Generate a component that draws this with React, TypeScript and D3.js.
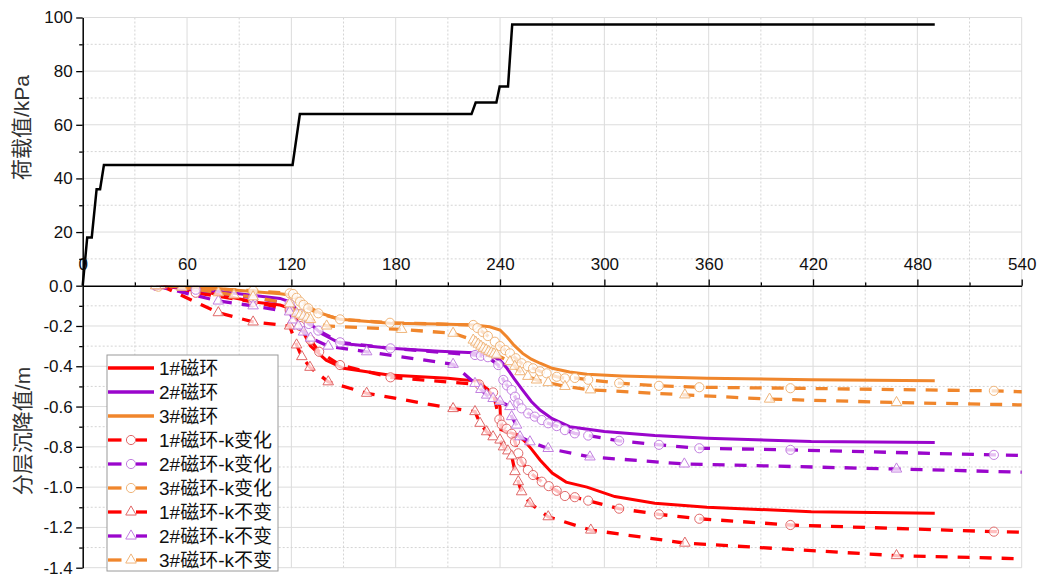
import React, { useRef, useEffect } from 'react';
import * as d3 from 'd3';

// load history (top panel)
const loadTime = [0, 2.6, 5.2, 8, 10, 12.2, 120.7, 124.9, 223.6, 226, 237.9, 239.8, 244.6, 247, 490];
const loadValue = [0, 18, 18, 36, 36, 45, 45, 64, 64, 68.3, 68.3, 74.3, 74.3, 97.4, 97.4];

// measured settlement, solid lines
const ring1Time = [45, 70, 98, 113.5, 119, 125, 131, 140, 150, 176, 210, 228, 234, 238, 240, 240.5, 244, 250, 254, 258, 263, 270, 278, 290, 306, 329, 359, 419, 490];
const ring1Value = [0, -0.03, -0.08, -0.096, -0.112, -0.2, -0.3, -0.37, -0.41, -0.443, -0.46, -0.475, -0.526, -0.567, -0.6, -0.715, -0.725, -0.74, -0.77, -0.81, -0.865, -0.93, -0.975, -1.0, -1.047, -1.08, -1.1, -1.122, -1.13];
const ring2Time = [45, 80, 113.5, 119, 125, 131, 137, 148, 177, 205, 225, 236, 240, 244, 248, 253, 258, 263, 270, 280, 300, 329, 359, 419, 490];
const ring2Value = [0, -0.03, -0.063, -0.08, -0.137, -0.19, -0.236, -0.286, -0.311, -0.325, -0.333, -0.352, -0.37, -0.41, -0.46, -0.518, -0.575, -0.617, -0.66, -0.7, -0.724, -0.744, -0.757, -0.774, -0.779];
const ring3Time = [42, 76, 99, 113.5, 118, 125, 131, 137, 148, 177, 205, 225, 234, 240, 244, 248, 253, 258, 263, 270, 280, 290, 310, 359, 419, 490];
const ring3Value = [0, -0.013, -0.03, -0.04, -0.045, -0.071, -0.11, -0.137, -0.167, -0.187, -0.19, -0.195, -0.204, -0.22, -0.255, -0.295, -0.336, -0.365, -0.385, -0.41, -0.428, -0.44, -0.448, -0.459, -0.467, -0.472];

// computed, k varying (circles)
const ring1kVarTime = [42, 65, 98, 119, 125, 131, 136, 148, 177, 228, 236, 239.6, 241, 243.8, 246.7, 248.6, 250.5, 252.4, 256, 259, 264, 268, 272.6, 277.3, 283, 290.7, 308.5, 331.4, 354.6, 407, 524, 560];
const ring1kVarValue = [0, -0.035, -0.08, -0.12, -0.2, -0.27, -0.328, -0.394, -0.455, -0.49, -0.53, -0.664, -0.69, -0.71, -0.735, -0.775, -0.832, -0.874, -0.915, -0.94, -0.973, -0.995, -1.018, -1.044, -1.05, -1.067, -1.107, -1.135, -1.157, -1.188, -1.221, -1.228];
const ring2kVarTime = [42, 65, 98, 119, 125, 130, 135.5, 148, 177, 225.6, 229, 233, 239, 241.9, 244, 246.7, 248.6, 250.5, 252.4, 256.2, 260, 264, 267.7, 272.6, 277.3, 283, 290.7, 308.5, 331.4, 354.6, 407, 524, 560];
const ring2kVarValue = [0, -0.02, -0.06, -0.09, -0.14, -0.19, -0.223, -0.281, -0.311, -0.344, -0.348, -0.355, -0.394, -0.468, -0.495, -0.518, -0.551, -0.584, -0.609, -0.634, -0.65, -0.667, -0.683, -0.697, -0.717, -0.733, -0.744, -0.77, -0.79, -0.807, -0.815, -0.84, -0.845];
const ring3kVarTime = [43.5, 98, 119, 121, 123, 125, 127, 129.7, 135.5, 148, 176.7, 224.6, 227, 230, 233, 237, 240, 243, 245.7, 249, 252.4, 256, 259, 263, 266.8, 272.6, 277.3, 283, 290.7, 308.5, 331.4, 354.6, 407, 524, 560];
const ring3kVarValue = [-0.005, -0.025, -0.038, -0.041, -0.06, -0.079, -0.095, -0.112, -0.137, -0.167, -0.184, -0.195, -0.21, -0.23, -0.25, -0.278, -0.3, -0.32, -0.336, -0.36, -0.385, -0.4, -0.41, -0.425, -0.435, -0.452, -0.46, -0.458, -0.467, -0.484, -0.497, -0.504, -0.509, -0.522, -0.532];

// computed, k constant (triangles)
const ring1kConstTime = [45, 78, 98, 119, 123, 126, 130.7, 141.2, 163.3, 213, 225.6, 228.5, 232.3, 236, 240, 242, 244.5, 246.7, 248.6, 250.5, 252.4, 257.2, 267.7, 292.2, 346.3, 468, 560];
const ring1kConstValue = [0, -0.134, -0.18, -0.2, -0.294, -0.352, -0.405, -0.477, -0.534, -0.61, -0.625, -0.683, -0.725, -0.75, -0.766, -0.8, -0.82, -0.845, -0.923, -0.973, -1.023, -1.08, -1.147, -1.213, -1.278, -1.34, -1.36];
const ring2kConstTime = [42, 78, 98, 119, 121, 124, 127, 131, 141.2, 163.3, 213, 225.6, 229, 232.3, 236, 240, 245.7, 246.7, 249.5, 251.5, 257.2, 267.7, 291.7, 346, 468, 560];
const ring2kConstValue = [0, -0.076, -0.1, -0.13, -0.17, -0.2, -0.23, -0.26, -0.3, -0.328, -0.39, -0.485, -0.515, -0.543, -0.56, -0.575, -0.6, -0.65, -0.692, -0.75, -0.775, -0.808, -0.85, -0.885, -0.91, -0.93];
const ring3kConstTime = [42, 57, 78, 87, 98, 119, 123, 125, 127, 129, 131, 140.3, 183.4, 213, 224.6, 226, 227.5, 229, 230.5, 232, 233.5, 235, 236.5, 238, 245.7, 248.5, 251.5, 256, 261, 267.7, 277.3, 292, 346.3, 395, 468, 560];
const ring3kConstValue = [0, -0.008, -0.035, -0.046, -0.055, -0.09, -0.137, -0.145, -0.152, -0.16, -0.168, -0.2, -0.217, -0.236, -0.27, -0.28, -0.29, -0.3, -0.31, -0.318, -0.326, -0.333, -0.338, -0.344, -0.377, -0.4, -0.427, -0.45, -0.468, -0.481, -0.5, -0.517, -0.542, -0.563, -0.58, -0.595];

const seriesNames = ['1#磁环', '2#磁环', '3#磁环', '1#磁环-k变化', '2#磁环-k变化', '3#磁环-k变化', '1#磁环-k不变', '2#磁环-k不变', '3#磁环-k不变'];

const xTicks = [0, 60, 120, 180, 240, 300, 360, 420, 480, 540];
const xMinor = [30, 90, 150, 210, 270, 330, 390, 450, 510];
const loadTicks = [20, 40, 60, 80, 100];
const loadMinor = [10, 30, 50, 70, 90];
const settleTicks = [0, -0.2, -0.4, -0.6, -0.8, -1.0, -1.2, -1.4];
const settleMinor = [-0.1, -0.3, -0.5, -0.7, -0.9, -1.1, -1.3];

const RED = '#ff0000';
const PURPLE = '#9a06cc';
const ORANGE = '#f0862c';
const zip = (t, v) => t.map((d, i) => ({ t: d, v: v[i] }));

const App = () => {
  const svgRef = useRef();

  useEffect(() => {
    const svg = d3.select(svgRef.current);
    svg.selectAll('*').remove();

    const left = 82.7, right = 1021.7, top = 17.5, mid = 285.7, bottom = 567.7;
    const x = d3.scaleLinear().domain([0, 540]).range([left, right]);
    const yTop = d3.scaleLinear().domain([0, 100]).range([mid, top]);
    const yBot = d3.scaleLinear().domain([-1.4, 0]).range([bottom, mid]);

    const font = 'Arial, "Liberation Sans", "Noto Sans CJK SC", sans-serif';

    const series = [
      { data: zip(ring1Time, ring1Value), color: RED, mark: null, dashed: false },
      { data: zip(ring2Time, ring2Value), color: PURPLE, mark: null, dashed: false },
      { data: zip(ring3Time, ring3Value), color: ORANGE, mark: null, dashed: false },
      { data: zip(ring1kVarTime, ring1kVarValue), color: RED, mark: 'circle', edge: '#e06868', dashed: true },
      { data: zip(ring2kVarTime, ring2kVarValue), color: PURPLE, mark: 'circle', edge: '#c27fe0', dashed: true },
      { data: zip(ring3kVarTime, ring3kVarValue), color: ORANGE, mark: 'circle', edge: '#f0b57a', dashed: true },
      { data: zip(ring1kConstTime, ring1kConstValue), color: RED, mark: 'triangle', edge: '#e06868', dashed: true },
      { data: zip(ring2kConstTime, ring2kConstValue), color: PURPLE, mark: 'triangle', edge: '#c27fe0', dashed: true },
      { data: zip(ring3kConstTime, ring3kConstValue), color: ORANGE, mark: 'triangle', edge: '#f0b57a', dashed: true }
    ];

    const g = svg.append('g');

    // grid
    const grid = g.append('g');
    const gridLine = (x1, y1, x2, y2, minor) => grid.append('line')
      .attr('x1', x1).attr('y1', y1).attr('x2', x2).attr('y2', y2)
      .attr('stroke', minor ? '#d4d4d4' : '#dcdcdc')
      .attr('stroke-width', 1)
      .attr('stroke-dasharray', minor ? '2,2' : null);
    xTicks.slice(1).forEach(d => gridLine(x(d), top, x(d), bottom, false));
    xMinor.forEach(d => gridLine(x(d), top, x(d), bottom, true));
    loadTicks.forEach(d => gridLine(left, yTop(d), right, yTop(d), false));
    loadMinor.forEach(d => gridLine(left, yTop(d), right, yTop(d), true));
    settleTicks.slice(1).forEach(d => gridLine(left, yBot(d), right, yBot(d), false));
    settleMinor.forEach(d => gridLine(left, yBot(d), right, yBot(d), true));

    // clip for the settlement panel
    svg.append('defs').append('clipPath').attr('id', 'botClip')
      .append('rect').attr('x', left).attr('y', mid).attr('width', right - left).attr('height', bottom - mid + 2);

    // load curve
    const loadLine = d3.line().x(d => x(d.t)).y(d => yTop(d.v));
    g.append('path')
      .datum(zip(loadTime, loadValue))
      .attr('fill', 'none')
      .attr('stroke', '#000')
      .attr('stroke-width', 2.5)
      .attr('d', loadLine);

    // settlement curves
    const plot = g.append('g').attr('clip-path', 'url(#botClip)');
    const line = d3.line().x(d => x(d.t)).y(d => yBot(d.v));
    const circleSym = d3.symbol().type(d3.symbolCircle).size(66);
    const triSym = d3.symbol().type(d3.symbolTriangle).size(48);

    series.forEach(s => {
      plot.append('path')
        .datum(s.data)
        .attr('fill', 'none')
        .attr('stroke', s.color)
        .attr('stroke-width', s.dashed ? 3.3 : 3)
        .attr('stroke-dasharray', s.dashed ? '12,10' : null)
        .attr('d', line);
    });
    series.forEach(s => {
      if (!s.mark) return;
      plot.selectAll(null)
        .data(s.data)
        .enter()
        .append('path')
        .attr('transform', d => `translate(${x(d.t)},${yBot(d.v)})`)
        .attr('d', s.mark === 'circle' ? circleSym() : triSym())
        .attr('fill', 'rgba(255,255,255,0.75)')
        .attr('stroke', s.edge)
        .attr('stroke-width', 1);
    });

    // axes
    const styleAxis = sel => {
      sel.select('.domain').attr('stroke', '#000').attr('stroke-width', 1.5);
      sel.selectAll('.tick line').attr('stroke', '#000').attr('stroke-width', 1.3);
      sel.selectAll('text').attr('fill', '#111').style('font-size', '17px').style('font-family', font);
    };

    const xAxis = g.append('g')
      .attr('transform', `translate(0,${mid})`)
      .call(d3.axisTop(x).tickValues(xTicks).tickSize(6.3).tickSizeOuter(0).tickPadding(9.5).tickFormat(d3.format('d')));
    styleAxis(xAxis);
    g.append('g')
      .attr('transform', `translate(0,${mid})`)
      .call(d3.axisTop(x).tickValues(xMinor).tickSize(3.3).tickSizeOuter(0).tickFormat(''))
      .call(sel => { sel.select('.domain').remove(); sel.selectAll('.tick line').attr('stroke', '#000').attr('stroke-width', 1.3); });

    const yTopAxis = g.append('g')
      .attr('transform', `translate(${left},0)`)
      .call(d3.axisLeft(yTop).tickValues(loadTicks).tickSize(6.5).tickSizeOuter(0).tickPadding(3.5));
    styleAxis(yTopAxis);
    g.append('g')
      .attr('transform', `translate(${left},0)`)
      .call(d3.axisLeft(yTop).tickValues(loadMinor).tickSize(3.5).tickSizeOuter(0).tickFormat(''))
      .call(sel => { sel.select('.domain').remove(); sel.selectAll('.tick line').attr('stroke', '#000').attr('stroke-width', 1.3); });

    const yBotAxis = g.append('g')
      .attr('transform', `translate(${left},0)`)
      .call(d3.axisLeft(yBot).tickValues(settleTicks).tickSize(6.5).tickSizeOuter(0).tickPadding(3.5).tickFormat(d3.format('.1f')));
    styleAxis(yBotAxis);
    yBotAxis.selectAll('text').text(d => d3.format('.1f')(d).replace('−', '-'));
    g.append('g')
      .attr('transform', `translate(${left},0)`)
      .call(d3.axisLeft(yBot).tickValues(settleMinor).tickSize(3.5).tickSizeOuter(0).tickFormat(''))
      .call(sel => { sel.select('.domain').remove(); sel.selectAll('.tick line').attr('stroke', '#000').attr('stroke-width', 1.3); });

    // axis titles
    g.append('text')
      .attr('transform', `translate(29,${(top + mid) / 2 - 24}) rotate(-90)`)
      .attr('text-anchor', 'middle')
      .attr('fill', '#333')
      .style('font-size', '21px')
      .style('font-family', font)
      .text('荷载值/kPa');
    g.append('text')
      .attr('transform', `translate(30,431) rotate(-90)`)
      .attr('text-anchor', 'middle')
      .attr('fill', '#333')
      .style('font-size', '21px')
      .style('font-family', font)
      .text('分层沉降值/m');

    // legend
    const legend = g.append('g');
    legend.append('rect')
      .attr('x', 107).attr('y', 355).attr('width', 171).attr('height', 216)
      .attr('fill', '#fff').attr('stroke', '#9a9a9a').attr('stroke-width', 1);
    series.forEach((s, i) => {
      const yy = 368 + i * 24;
      const item = legend.append('g');
      if (!s.dashed) {
        item.append('line').attr('x1', 108).attr('x2', 154).attr('y1', yy).attr('y2', yy)
          .attr('stroke', s.color).attr('stroke-width', 3.3);
      } else {
        item.append('line').attr('x1', 108).attr('x2', 121.5).attr('y1', yy).attr('y2', yy)
          .attr('stroke', s.color).attr('stroke-width', 3.3);
        item.append('line').attr('x1', 136).attr('x2', 147).attr('y1', yy).attr('y2', yy)
          .attr('stroke', s.color).attr('stroke-width', 3.3);
        item.append('path')
          .attr('transform', `translate(131,${yy})`)
          .attr('d', s.mark === 'circle' ? circleSym() : triSym())
          .attr('fill', '#fff').attr('stroke', s.edge).attr('stroke-width', 1);
      }
      item.append('text')
        .attr('x', 159).attr('y', yy)
        .attr('dy', '0.36em')
        .attr('fill', '#111')
        .style('font-size', '19px')
        .style('font-family', font)
        .text(seriesNames[i]);
    });
  }, []);

  return (
    <svg ref={svgRef} width={1041} height={575}
      style={{ position: 'absolute', left: 0, top: 0, background: '#fff' }} />
  );
};

export default App;
